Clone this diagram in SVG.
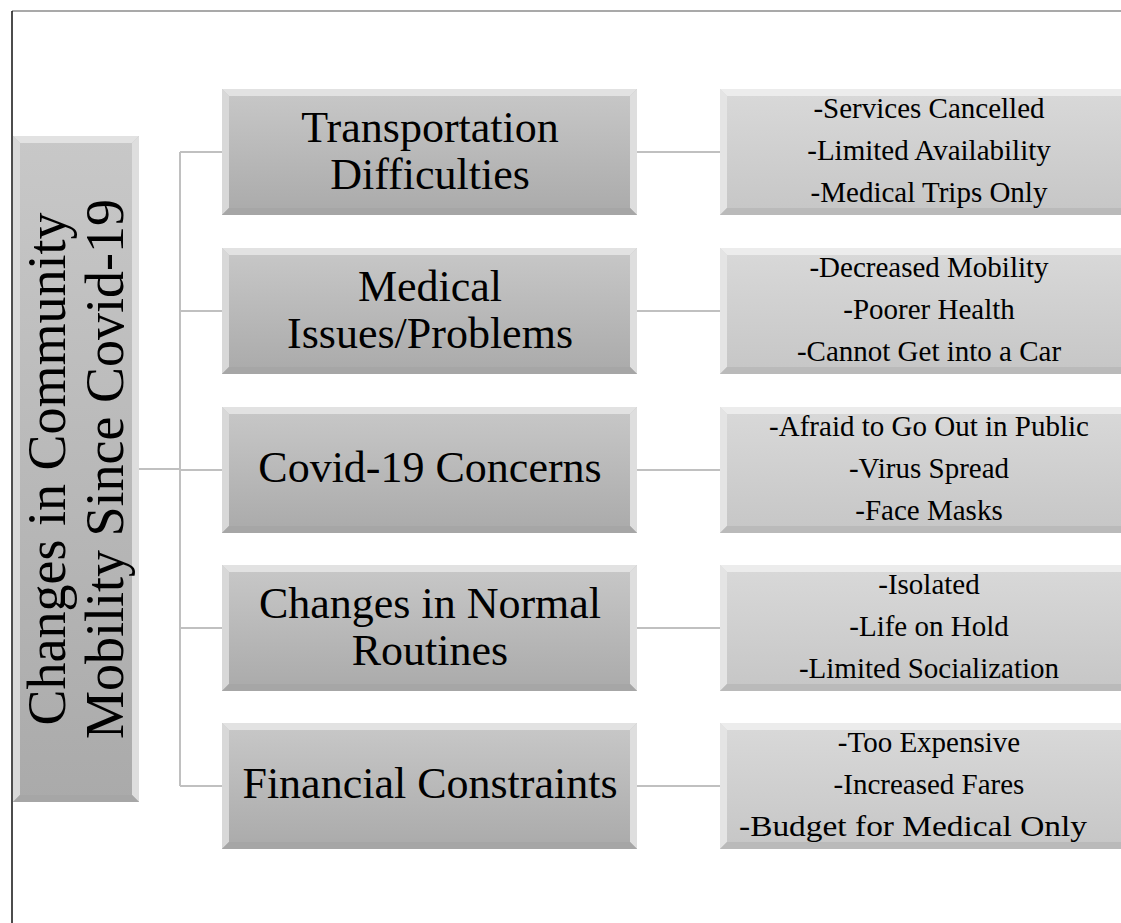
<svg xmlns="http://www.w3.org/2000/svg" xmlns:xlink="http://www.w3.org/1999/xlink" width="1121" height="923" viewBox="0 0 1121 923">
  <style>
    .t { font-family: "Liberation Serif", "Times New Roman", serif; fill: #000; text-anchor: middle; }
    .t1 { font-size: 44px; }
    .t2 { font-size: 29px; }
    .t0 { font-size: 54px; }
    .conn { fill: none; stroke: #c0c0c0; stroke-width: 2; }
    .edge-top { fill: #e2e2e2; }
    .edge-left { fill: #d8d8d8; }
    .edge-right { fill: #dedede; }
    .edge-bot { fill: #a6a6a6; }
    .edge-top2 { fill: #ececec; }
    .edge-left2 { fill: #e4e4e4; }
    .edge-right2 { fill: #e8e8e8; }
    .edge-bot2 { fill: #bababa; }
  </style>
  <defs>
    <linearGradient id="faceDark" x1="0" y1="0" x2="0" y2="1">
      <stop offset="0" stop-color="#c8c8c8"/>
      <stop offset="1" stop-color="#aaaaaa"/>
    </linearGradient>
    <linearGradient id="faceLight" x1="0" y1="0" x2="0" y2="1">
      <stop offset="0" stop-color="#d9d9d9"/>
      <stop offset="1" stop-color="#c6c6c6"/>
    </linearGradient>
    <!-- bevelled category box, 415 x 126 -->
    <g id="box1">
      <rect x="0" y="0" width="415" height="126" fill="url(#faceDark)"/>
      <polygon class="edge-top" points="0,0 415,0 408,7 7,7"/>
      <polygon class="edge-left" points="0,0 7,7 7,119 0,126"/>
      <polygon class="edge-right" points="415,0 415,126 408,119 408,7"/>
      <polygon class="edge-bot" points="0,126 415,126 408,119 7,119"/>
    </g>
    <!-- bevelled detail box, 418 x 126 -->
    <g id="box2">
      <rect x="0" y="0" width="418" height="126" fill="url(#faceLight)"/>
      <polygon class="edge-top2" points="0,0 418,0 411,7 7,7"/>
      <polygon class="edge-left2" points="0,0 7,7 7,119 0,126"/>
      <polygon class="edge-right2" points="418,0 418,126 411,119 411,7"/>
      <polygon class="edge-bot2" points="0,126 418,126 411,119 7,119"/>
    </g>
  </defs>

  <!-- frame -->
  <line x1="12" y1="11" x2="1121" y2="11" stroke="#8c8c8c" stroke-width="1.5"/>
  <line x1="12" y1="11" x2="12" y2="923" stroke="#111" stroke-width="1.5"/>

  <!-- connectors -->
  <g id="connectors" class="conn">
    <path d="M139,469 H180"/>
    <path d="M180,152 V786"/>
    <path d="M180,152 H222"/>
    <path d="M180,311 H222"/>
    <path d="M180,470 H222"/>
    <path d="M180,628 H222"/>
    <path d="M180,786 H222"/>
    <path d="M637,152 H720"/>
    <path d="M637,311 H720"/>
    <path d="M637,470 H720"/>
    <path d="M637,628 H720"/>
    <path d="M637,786 H720"/>
  </g>

  <!-- root -->
  <g id="root">
    <rect x="13" y="136" width="126" height="666" fill="url(#faceDark)"/>
    <polygon class="edge-top" points="13,136 139,136 132,143 20,143"/>
    <polygon class="edge-left" points="13,136 20,143 20,795 13,802"/>
    <polygon class="edge-right" points="139,136 139,802 132,795 132,143"/>
    <polygon class="edge-bot" points="13,802 139,802 132,795 20,795"/>
    <text class="t t0" transform="translate(79,469) rotate(-90)"><tspan x="0" y="-14">Changes in Community</tspan><tspan x="0" y="44">Mobility Since Covid-19</tspan></text>
  </g>

  <!-- categories -->
  <g id="cat-transport">
    <use xlink:href="#box1" x="222" y="89"/>
    <text class="t t1"><tspan x="430" y="142">Transportation</tspan><tspan x="430" y="189">Difficulties</tspan></text>
  </g>
  <g id="cat-medical">
    <use xlink:href="#box1" x="222" y="248"/>
    <text class="t t1"><tspan x="430" y="301">Medical</tspan><tspan x="430" y="348">Issues/Problems</tspan></text>
  </g>
  <g id="cat-covid">
    <use xlink:href="#box1" x="222" y="407"/>
    <text class="t t1" x="430" y="482">Covid-19 Concerns</text>
  </g>
  <g id="cat-routines">
    <use xlink:href="#box1" x="222" y="565"/>
    <text class="t t1"><tspan x="430" y="618">Changes in Normal</tspan><tspan x="430" y="665">Routines</tspan></text>
  </g>
  <g id="cat-financial">
    <use xlink:href="#box1" x="222" y="723"/>
    <text class="t t1" x="430" y="798">Financial Constraints</text>
  </g>

  <!-- details -->
  <g id="det-transport">
    <use xlink:href="#box2" x="720" y="89"/>
    <text class="t t2"><tspan x="929" y="118">-Services Cancelled</tspan><tspan x="929" y="160">-Limited Availability</tspan><tspan x="929" y="202">-Medical Trips Only</tspan></text>
  </g>
  <g id="det-medical">
    <use xlink:href="#box2" x="720" y="248"/>
    <text class="t t2"><tspan x="929" y="277">-Decreased Mobility</tspan><tspan x="929" y="319">-Poorer Health</tspan><tspan x="929" y="361">-Cannot Get into a Car</tspan></text>
  </g>
  <g id="det-covid">
    <use xlink:href="#box2" x="720" y="407"/>
    <text class="t t2"><tspan x="929" y="436">-Afraid to Go Out in Public</tspan><tspan x="929" y="478">-Virus Spread</tspan><tspan x="929" y="520">-Face Masks</tspan></text>
  </g>
  <g id="det-routines">
    <use xlink:href="#box2" x="720" y="565"/>
    <text class="t t2"><tspan x="929" y="594">-Isolated</tspan><tspan x="929" y="636">-Life on Hold</tspan><tspan x="929" y="678">-Limited Socialization</tspan></text>
  </g>
  <g id="det-financial">
    <use xlink:href="#box2" x="720" y="723"/>
    <text class="t t2"><tspan x="929" y="752">-Too Expensive</tspan><tspan x="929" y="794">-Increased Fares</tspan></text>
    <text class="t t2" x="913" y="836" textLength="348" lengthAdjust="spacingAndGlyphs">-Budget for Medical Only</text>
  </g>
</svg>
